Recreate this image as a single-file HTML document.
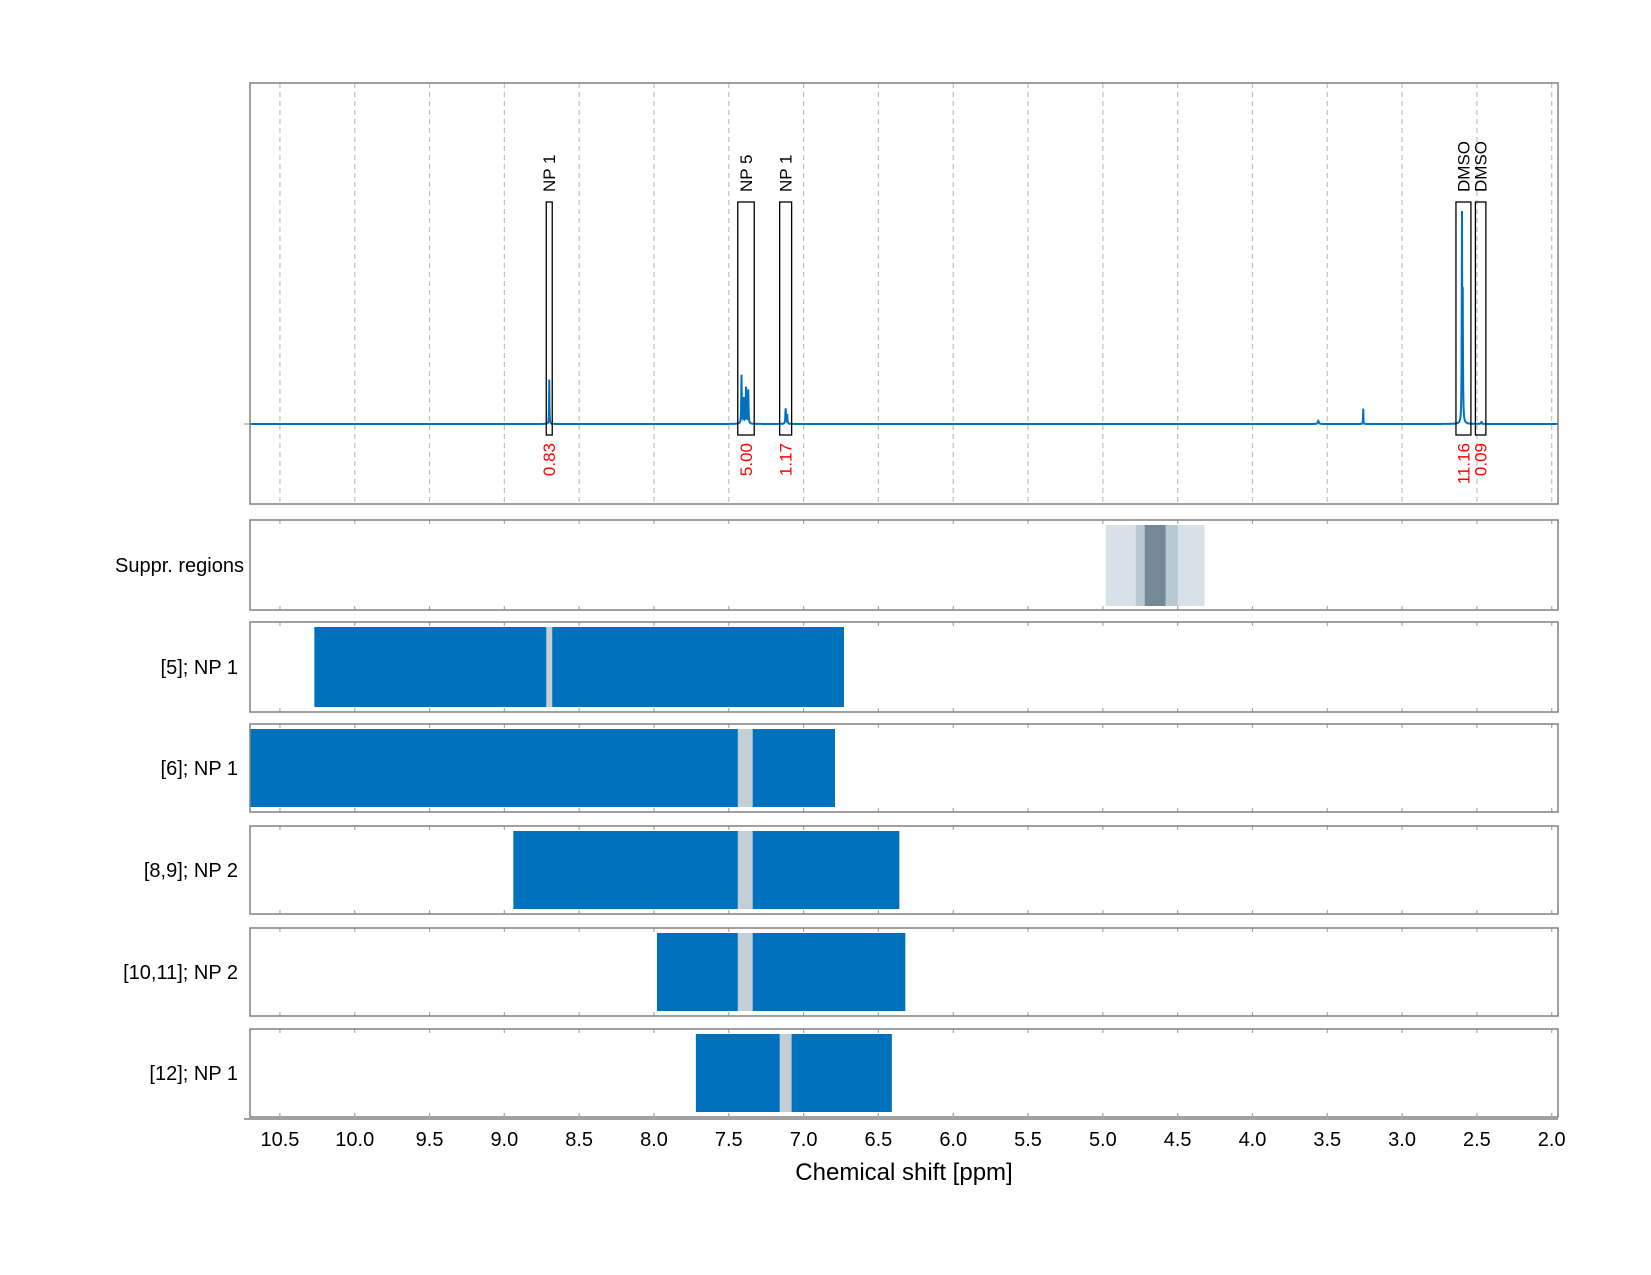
<!DOCTYPE html>
<html><head><meta charset="utf-8"><style>
html,body{margin:0;padding:0;background:#fff;}
svg{display:block;font-family:"Liberation Sans",sans-serif;}
</style></head><body>
<svg id="chart" width="1651" height="1275" viewBox="0 0 1651 1275" xmlns="http://www.w3.org/2000/svg">
<g id="grid"></g>
<g id="spec"></g>
<g id="rows"></g>
<g id="axis"></g>
<text x="904" y="1180" font-size="24" text-anchor="middle">Chemical shift [ppm]</text>
</svg>
<script>
// ---- data ----
const tickValues = [10.5,10.0,9.5,9.0,8.5,8.0,7.5,7.0,6.5,6.0,5.5,5.0,4.5,4.0,3.5,3.0,2.5,2.0];
const tickLabels = ["10.5","10.0","9.5","9.0","8.5","8.0","7.5","7.0","6.5","6.0","5.5","5.0","4.5","4.0","3.5","3.0","2.5","2.0"];
const peakPos = [8.70, 7.415, 7.40, 7.385, 7.37, 7.12, 7.11, 3.56, 3.26, 2.60, 2.595, 2.47];
const peakHeight = [0.21, 0.23, 0.12, 0.17, 0.16, 0.08, 0.05, 0.015, 0.08, 0.97, 0.6, 0.01];
const peakWidth = [0.0015, 0.002, 0.002, 0.002, 0.002, 0.002, 0.002, 0.004, 0.0012, 0.0015, 0.002, 0.003];
const boxStart = [8.72, 7.44, 7.16, 2.64, 2.51];
const boxEnd = [8.68, 7.33, 7.08, 2.54, 2.44];
const boxLabels = ["NP 1","NP 5","NP 1","DMSO","DMSO"];
const boxIntegrals = ["0.83","5.00","1.17","11.16","0.09"];
const rowLabels = ["[5]; NP 1","[6]; NP 1","[8,9]; NP 2","[10,11]; NP 2","[12]; NP 1"];
const rowStart = [10.27, 10.70, 8.94, 7.98, 7.72];
const rowEnd = [6.73, 6.79, 6.36, 6.32, 6.41];
const gapStart = [8.72, 7.44, 7.44, 7.44, 7.16];
const gapEnd = [8.68, 7.34, 7.34, 7.34, 7.08];
const supprStart = [4.98, 4.78, 4.72, 4.58];
const supprEnd = [4.32, 4.50, 4.58, 4.50];
const supprColor = ["#d9e1e8","#b8c9d2","#738a96","#b8c9d2"];

// ---- scales ----
const X0=250, X1=1558, V0=10.70, V1=1.958;
function xs(v){ return X0 + (V0 - v)*(X1-X0)/(V0-V1); }
const BASE=424, SPEC_H=212;
function ys(h){ return BASE - h*SPEC_H; }
const NS="http://www.w3.org/2000/svg";
function mk(parent, tag, attrs){ const e=document.createElementNS(NS,tag); for(const k in attrs) e.setAttribute(k,attrs[k]); parent.appendChild(e); return e; }

const panels = [[83,504],[520,610],[622,712],[724,812],[826,914],[928,1016],[1029,1117]];
const grid=document.getElementById('grid');
tickValues.forEach(v=>{
  const l=mk(grid,'line',{x1:xs(v),x2:xs(v),y1:83,y2:504,stroke:'#c0c0c0','stroke-width':1.2,'stroke-dasharray':'5,4'});
  
  
});
panels.slice(1).forEach(p=>{
  tickValues.forEach(v=>{
    mk(grid,'line',{x1:xs(v),x2:xs(v),y1:p[0],y2:p[0]+4,stroke:'#aaa','stroke-width':1.2});
    mk(grid,'line',{x1:xs(v),x2:xs(v),y1:p[1]-4,y2:p[1],stroke:'#aaa','stroke-width':1.2});
  });
});

// spectrum
const spec=document.getElementById('spec');
let d='';
for(let px=X0; px<=X1; px+=0.25){
  const v = V0 - (px-X0)*(V0-V1)/(X1-X0);
  let s=0;
  for(let i=0;i<peakPos.length;i++){ const w=peakWidth[i]; const dx=v-peakPos[i]; s+=peakHeight[i]*w*w/(dx*dx+w*w); }
  d += (d?'L':'M')+px.toFixed(2)+','+ys(s).toFixed(1);
}
mk(spec,'line',{x1:244,x2:250,y1:BASE,y2:BASE,stroke:'#888','stroke-width':1});
const sp=mk(spec,'path',{d:d,fill:'none',stroke:'#0072bd','stroke-width':2});


boxStart.forEach((b,i)=>{
  const x=xs(b), w=xs(boxEnd[i])-xs(b);
  const r=mk(spec,'rect',{x:x,y:202,width:w,height:233,fill:'none',stroke:'#000','stroke-width':1.3});
  
  
  const cx=x+w/2;
  const t=mk(spec,'text',{x:0,y:0,transform:`translate(${cx+6},192) rotate(-90)`,'font-size':17});
  t.textContent=boxLabels[i];
  
  
  const t2=mk(spec,'text',{x:0,y:0,transform:`translate(${cx+6},443) rotate(-90)`,'font-size':17,'text-anchor':'end',fill:'#ff0000'});
  t2.textContent=boxIntegrals[i];
  
  
});

// rows
const rows=document.getElementById('rows');
const sl=mk(rows,'text',{x:244,y:572,'font-size':20,'text-anchor':'end'});
sl.textContent='Suppr. regions';


supprStart.forEach((s,i)=>{
  const r=mk(rows,'rect',{x:xs(s),y:525,width:xs(supprEnd[i])-xs(s),height:81,fill:supprColor[i]});
  
  
});
rowLabels.forEach((lab,i)=>{
  const p=panels[i+2];
  const t=mk(rows,'text',{x:238,y:(p[0]+p[1])/2+7,'font-size':20,'text-anchor':'end'});
  t.textContent=lab;
  
  
  const y=p[0]+5, h=p[1]-p[0]-10;
  const xa=Math.max(xs(rowStart[i]),X0);
  const b=mk(rows,'rect',{x:xa,y:y,width:xs(rowEnd[i])-xa,height:h,fill:'#0072bd'});
  
  
  const g=mk(rows,'rect',{x:xs(gapStart[i]),y:y,width:xs(gapEnd[i])-xs(gapStart[i]),height:h,fill:'#c3ced6'});
  
  
});
panels.forEach(p=>{
  const r=mk(rows,'rect',{x:X0,y:p[0],width:X1-X0,height:p[1]-p[0],fill:'none',stroke:'#808080','stroke-width':1.5});
  
  
});

// axis
const ax=document.getElementById('axis');
mk(ax,'line',{x1:X0-6,x2:X1,y1:1119,y2:1119,stroke:'#808080','stroke-width':1.5});
tickValues.forEach((v,i)=>{
  mk(ax,'line',{x1:xs(v),x2:xs(v),y1:1113,y2:1119,stroke:'#aaa','stroke-width':1.2});
  const t=mk(ax,'text',{x:xs(v),y:1146,'font-size':20,'text-anchor':'middle'});
  t.textContent=tickLabels[i];
  
  
});
</script>
</body></html>
